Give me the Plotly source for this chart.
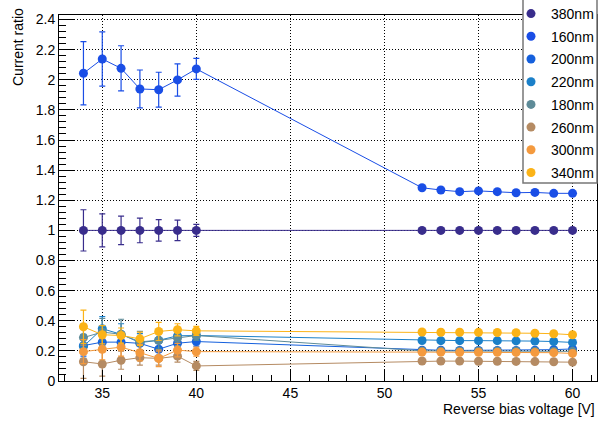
import plotly.graph_objects as go

x_vals = [34, 35, 36, 37, 38, 39, 40, 52, 53, 54, 55, 56, 57, 58, 59, 60]

names = ["380nm", "160nm", "200nm", "220nm", "180nm", "260nm", "300nm", "340nm"]
colors = ["#392d8c", "#1a4ee6", "#1560dd", "#1b80c9", "#5e8b98", "#b58b63", "#f49a3e", "#fbb318"]

y_380 = [1.0, 1.0, 1.0, 1.0, 1.0, 1.0, 1.0, 1.0, 1.0, 1.0, 1.0, 1.0, 1.0, 1.0, 1.0, 1.0]
e_380 = [0.137, 0.11, 0.094, 0.082, 0.071, 0.068, 0.04, 0, 0, 0, 0, 0, 0, 0, 0, 0]

y_160 = [2.043, 2.138, 2.076, 1.939, 1.934, 1.999, 2.072, 1.283, 1.268, 1.257, 1.262, 1.257, 1.25, 1.252, 1.246, 1.246]
e_160 = [0.21, 0.18, 0.15, 0.126, 0.116, 0.107, 0.07, 0, 0, 0, 0, 0, 0, 0, 0, 0]

y_200 = [0.235, 0.258, 0.258, 0.25, 0.211, 0.251, 0.262, 0.204, 0.204, 0.203, 0.203, 0.203, 0.203, 0.204, 0.208, 0.213]
e_200 = [0.07, 0.06, 0.05, 0.045, 0.04, 0.04, 0.03, 0, 0, 0, 0, 0, 0, 0, 0, 0]

y_220 = [0.23, 0.347, 0.31, 0.255, 0.27, 0.3, 0.302, 0.269, 0.268, 0.268, 0.268, 0.268, 0.266, 0.265, 0.262, 0.256]
e_220 = [0.08, 0.08, 0.07, 0.06, 0.05, 0.05, 0.03, 0, 0, 0, 0, 0, 0, 0, 0, 0]

y_180 = [0.288, 0.325, 0.31, 0.26, 0.27, 0.285, 0.302, 0.2, 0.2, 0.2, 0.199, 0.199, 0.199, 0.198, 0.198, 0.197]
e_180 = [0.09, 0.09, 0.1, 0.07, 0.06, 0.05, 0.03, 0, 0, 0, 0, 0, 0, 0, 0, 0]

y_260 = [0.128, 0.113, 0.138, 0.155, 0.15, 0.165, 0.1, 0.133, 0.132, 0.132, 0.131, 0.131, 0.13, 0.129, 0.128, 0.125]
e_260 = [0.11, 0.08, 0.06, 0.05, 0.045, 0.04, 0.03, 0, 0, 0, 0, 0, 0, 0, 0, 0]

y_300 = [0.195, 0.211, 0.225, 0.188, 0.15, 0.205, 0.195, 0.192, 0.192, 0.191, 0.191, 0.191, 0.19, 0.19, 0.188, 0.183]
e_300 = [0.08, 0.07, 0.06, 0.055, 0.055, 0.045, 0.03, 0, 0, 0, 0, 0, 0, 0, 0, 0]

y_340 = [0.36, 0.307, 0.302, 0.28, 0.329, 0.34, 0.333, 0.325, 0.324, 0.324, 0.323, 0.322, 0.32, 0.317, 0.314, 0.307]
e_340 = [0.11, 0.06, 0.05, 0.045, 0.06, 0.04, 0.03, 0, 0, 0, 0, 0, 0, 0, 0, 0]

series_y = [y_380, y_160, y_200, y_220, y_180, y_260, y_300, y_340]
series_e = [e_380, e_160, e_200, e_220, e_180, e_260, e_300, e_340]

x_title = "Reverse bias voltage [V]"
y_title = "Current ratio"

FONT = "Liberation Sans, Arial, sans-serif"

fig = go.Figure()
for i, (nm, c, ys, es) in enumerate(zip(names, colors, series_y, series_e)):
    fig.add_trace(go.Scatter(
        x=x_vals, y=ys, name=nm, mode="lines",
        line=dict(color=c, width=1),
        showlegend=False, legendgroup=nm, hoverinfo="skip",
    ))
    fig.add_trace(go.Scatter(
        x=x_vals, y=ys, name=nm, mode="markers",
        marker=dict(color=c, size=9, symbol="circle", line=dict(width=0)),
        error_y=dict(type="data", array=es, visible=True, color=c, thickness=1.2, width=3),
        legendgroup=nm,
    ))

W, H = 598, 421
L, R, T, B = 59, 1, 15, 40
PW, PH = W - L - R, H - T - B

fig.update_layout(
    width=W, height=H,
    margin=dict(l=L, r=R, t=T, b=B, autoexpand=False),
    paper_bgcolor="white", plot_bgcolor="white",
    font=dict(family=FONT, size=14, color="black"),
    showlegend=True,
    legend=dict(
        x=(511 - L) / PW, xanchor="left",
        y=1 + (T + 2) / PH, yanchor="top",
        bgcolor="rgba(0,0,0,0)", borderwidth=0,
        font=dict(family=FONT, size=14, color="black"),
        traceorder="grouped", tracegroupgap=1.5,
    ),
    shapes=[dict(
        type="rect", xref="paper", yref="paper",
        x0=(523 - L) / PW, x1=(597 - L) / PW,
        y0=1 - (183 - T) / PH, y1=1 + (T + 2) / PH,
        fillcolor="white", line=dict(color="#777777", width=1.5), layer="above",
    )],
    annotations=[
        dict(text=x_title, xref="paper", yref="paper",
             x=1, xanchor="right", y=-(409 - (H - B)) / PH, yanchor="middle",
             showarrow=False, font=dict(family=FONT, size=14, color="black")),
        dict(text=y_title, xref="paper", yref="paper", textangle=-90,
             x=-(L - 18) / PW, xanchor="center",
             y=1 + (T - 6) / PH, yanchor="top",
             showarrow=False, font=dict(family=FONT, size=14, color="black")),
    ],
)

fig.update_xaxes(
    range=[32.7, 61.3], tickmode="linear", tick0=35, dtick=5,
    ticks="inside", ticklen=11, tickwidth=1, tickcolor="black",
    showline=True, linecolor="black", linewidth=1, mirror=True,
    showgrid=True, gridcolor="black", griddash="1px,2px", gridwidth=1,
    zeroline=False,
    minor=dict(ticks="inside", ticklen=6, dtick=1, tick0=35, tickcolor="black", showgrid=False),
    tickfont=dict(family=FONT, size=14, color="black"),
    ticklabelstandoff=-1,
)
fig.update_yaxes(
    range=[0, 2.43], tickmode="linear", tick0=0, dtick=0.2,
    ticks="inside", ticklen=15, tickwidth=1, tickcolor="black",
    showline=True, linecolor="black", linewidth=1, mirror=True,
    showgrid=True, gridcolor="black", griddash="1px,2px", gridwidth=1,
    zeroline=False,
    minor=dict(ticks="inside", ticklen=7, dtick=0.04, tick0=0, tickcolor="black", showgrid=False),
    tickfont=dict(family=FONT, size=14, color="black"),
    tickformat="~g",
)

fig.write_html("out.html")
